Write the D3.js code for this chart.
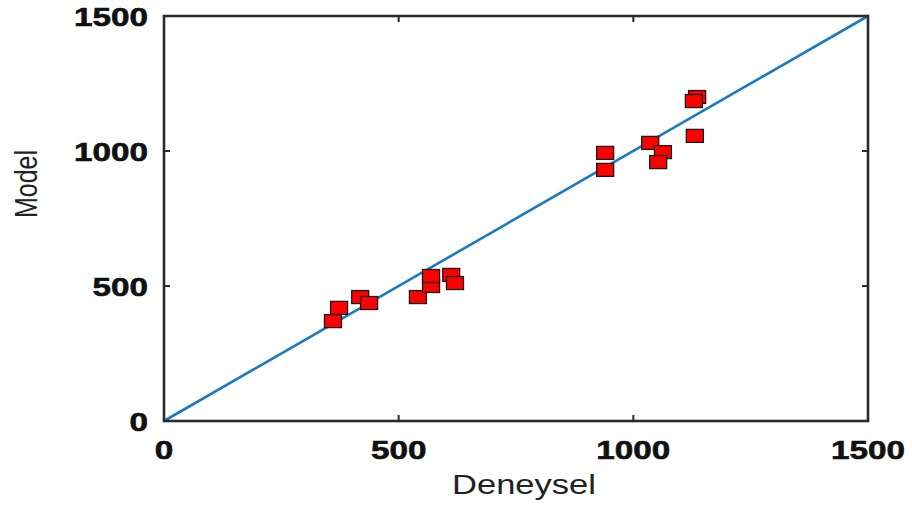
<!DOCTYPE html>
<html>
<head>
<meta charset="utf-8">
<script src="https://cdn.jsdelivr.net/npm/d3@7"></script>
<style>
html,body{margin:0;padding:0;background:#fff;}
svg{display:block;}
</style>
</head>
<body>
<svg id="chart" width="912" height="507"></svg>
<script>
const experimental = [360, 373, 418, 437, 541, 569, 569, 612, 620, 940, 940, 1036, 1063, 1053, 1131, 1136, 1129];
const model        = [370, 419, 459, 437, 459, 500, 537, 541, 511, 993, 930, 1030, 996, 959, 1056, 1200, 1185];
const tickValues = [0, 500, 1000, 1500];
const xLabel = "Deneysel";
const yLabel = "Model";
const domain = [0, 1500];

const svg = d3.select("#chart");
const L = 164, R = 868, T = 16, B = 421;
const x = d3.scaleLinear().domain(domain).range([L, R]);
const y = d3.scaleLinear().domain(domain).range([B, T]);
const SX = 1.28;

// diagonal line
svg.append("line")
  .attr("x1", x(domain[0])).attr("y1", y(domain[0]))
  .attr("x2", x(domain[1])).attr("y2", y(domain[1]))
  .attr("stroke", "#1a7ac4").attr("stroke-width", 2.6);

// markers
const pts = experimental.map((v, i) => ({x: v, y: model[i]}));
svg.append("g").selectAll("rect").data(pts).join("rect")
  .attr("x", d => x(d.x) - 8.5)
  .attr("y", d => y(d.y) - 6.5)
  .attr("width", 17).attr("height", 13)
  .attr("fill", "#ff0000")
  .attr("stroke", "#1a1a1a").attr("stroke-width", 1.3);

// box
svg.append("rect")
  .attr("x", L).attr("y", T).attr("width", R - L).attr("height", B - T)
  .attr("fill", "none").attr("stroke", "#2b2b2b").attr("stroke-width", 2.6);

// ticks (inward, all sides)
const tl = 6;
const tg = svg.append("g").attr("stroke", "#2b2b2b").attr("stroke-width", 2);
tickValues.forEach(v => {
  tg.append("line").attr("x1", x(v)).attr("x2", x(v)).attr("y1", B).attr("y2", B - tl);
  tg.append("line").attr("x1", x(v)).attr("x2", x(v)).attr("y1", T).attr("y2", T + tl);
  tg.append("line").attr("y1", y(v)).attr("y2", y(v)).attr("x1", L).attr("x2", L + tl);
  tg.append("line").attr("y1", y(v)).attr("y2", y(v)).attr("x1", R).attr("x2", R - tl);
});

const font = "'Liberation Sans', Arial, sans-serif";

// x tick labels
svg.append("g").selectAll("text").data(tickValues).join("text")
  .attr("transform", d => `translate(${x(d)},459) scale(${SX},1)`)
  .attr("text-anchor", "middle")
  .attr("font-family", font).attr("font-weight", "bold").attr("font-size", 26)
  .attr("fill", "#111").attr("stroke", "#111").attr("stroke-width", 0.6)
  .text(d => d);

// y tick labels
svg.append("g").selectAll("text").data(tickValues).join("text")
  .attr("transform", d => `translate(148,${y(d) + 9.5}) scale(${SX},1)`)
  .attr("text-anchor", "end")
  .attr("font-family", font).attr("font-weight", "bold").attr("font-size", 26)
  .attr("fill", "#111").attr("stroke", "#111").attr("stroke-width", 0.6)
  .text(d => d);

// axis titles
svg.append("text")
  .attr("transform", `translate(524,494) scale(${SX},1)`)
  .attr("text-anchor", "middle")
  .attr("font-family", font).attr("font-size", 27)
  .attr("fill", "#222")
  .text(xLabel);

svg.append("text")
  .attr("transform", `translate(37,184) scale(${SX},1) rotate(-90)`)
  .attr("text-anchor", "middle")
  .attr("font-family", font).attr("font-size", 25)
  .attr("fill", "#222")
  .text(yLabel);
</script>
</body>
</html>
